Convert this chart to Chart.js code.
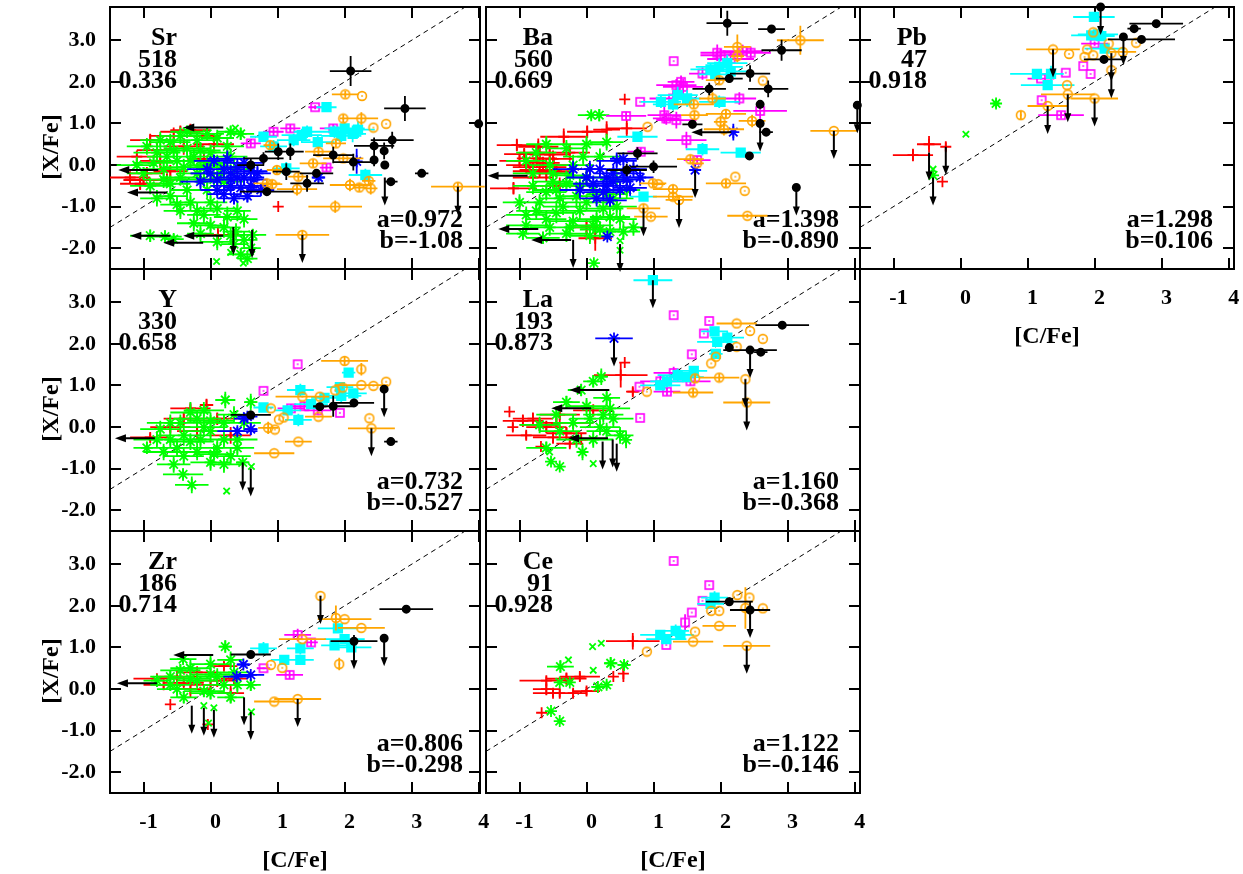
<!DOCTYPE html>
<html>
<head>
<meta charset="utf-8">
<script src="https://cdn.jsdelivr.net/npm/chart.js@4.4.1/dist/chart.umd.min.js"></script>
<style>
html, body { margin: 0; padding: 0; background: #fff; }
#wrap { position: relative; width: 1243px; height: 874px; }
#wrap canvas { position: absolute; left: 0; top: 0; }
</style>
</head>
<body>
<div id="wrap"></div>
<script>
// ---- axis ticks and ranges ----
const xTickValues = [-1, 0, 1, 2, 3, 4];
const yTickValues = [-2, -1, 0, 1, 2, 3];
const yRange = [-2.5, 3.8];
const oneToOne = [-1.5, 3.8];

// ---- Sr : [C/Fe], [X/Fe], err C, err X ----
const srRed = [[-0.95,-0.2,0.25,0.15],[-1.05,-0.45,0.3,0.15],[-0.8,0.36,0.3,0.2],[-0.55,0.7,0.35,0.2],[-0.3,0.84,0.3,0.15],[-0.75,0.1,0.3,0.2],[-0.6,-0.15,0.25,0.15],[-0.4,0.45,0.3,0.2],[-0.1,0.15,0.25,0.2],[0.05,0.5,0.3,0.2],[-1.0,-0.36,0.3,0.1],[-0.2,0.7,0.35,0.15],[0.11,-1.68,0.3,0.2],[1.01,-1.0,0,0],[-0.65,-0.35,0.3,0.15],[-1.2,-0.3,0.3,0.15],[-0.9,0.6,0.3,0.15],[-0.45,0.8,0.3,0.15],[-1.1,0.2,0.3,0.15]];
const srGreen = [[-0.9,-1.7,0.3,0.15],[-0.68,-1.72,0.25,0.15],[-0.55,-1.78,0.15,0.12],[-0.8,0.3,0.35,0.2],[-0.6,0.55,0.3,0.2],[-0.5,0.1,0.3,0.25],[-0.35,0.4,0.35,0.2],[-0.2,0.6,0.3,0.2],[-0.7,-0.1,0.3,0.2],[-0.45,-0.3,0.3,0.2],[-0.2,-0.2,0.3,0.25],[0.0,0.3,0.3,0.2],[0.1,0.65,0.25,0.2],[0.3,0.8,0.2,0.15],[0.45,0.75,0.2,0.15],[-0.9,-0.5,0.3,0.2],[-0.6,-0.75,0.25,0.2],[-0.3,-0.9,0.3,0.2],[-0.05,-0.6,0.3,0.2],[0.2,-0.4,0.3,0.2],[-0.1,-1.2,0.25,0.2],[0.1,-1.05,0.3,0.2],[-0.25,-1.4,0.25,0.2],[0.2,-1.5,0.25,0.25],[0.35,-1.9,0.2,0.2],[0.5,-1.8,0.2,0.2],[0.6,-2.0,0.15,0.2],[0.45,-2.15,0.2,0.15],[0.63,-1.68,0.2,0.15],[-0.45,0.7,0.3,0.2],[-0.05,0.0,0.3,0.2],[0.3,0.2,0.25,0.2],[-0.85,0.05,0.3,0.2],[-0.35,-0.6,0.25,0.25],[0.0,-0.9,0.25,0.2],[-0.15,0.35,0.3,0.2],[0.15,-0.2,0.3,0.25],[0.25,-1.25,0.2,0.25],[-0.45,-1.1,0.25,0.2],[0.38,-1.6,0.2,0.2],[0.1,-1.85,0.25,0.2],[-0.75,0.6,0.3,0.2],[-0.3,0.1,0.35,0.2],[0.05,-0.35,0.3,0.2],[-0.6,-0.45,0.3,0.2],[0.25,0.45,0.25,0.2],[-1.0,-0.2,0.25,0.15],[0.4,-1.1,0.2,0.25],[-0.15,-1.65,0.2,0.2],[-1.1,0.0,0.3,0.2],[-0.95,0.45,0.3,0.2],[-0.65,0.2,0.3,0.2],[-0.4,-0.05,0.3,0.2],[-0.1,-0.35,0.3,0.2],[0.1,0.05,0.3,0.2],[-0.55,0.35,0.3,0.2],[-0.25,0.2,0.3,0.2],[-0.7,-0.35,0.3,0.2],[-0.15,-0.05,0.3,0.2],[0.35,-0.1,0.25,0.2],[-0.5,-0.95,0.25,0.2],[-0.2,-1.1,0.25,0.2],[0.0,-1.45,0.2,0.2],[-0.35,0.8,0.25,0.15],[-0.05,0.75,0.25,0.15],[0.5,-1.3,0.2,0.2],[0.3,-1.7,0.2,0.2],[0.55,-2.25,0.15,0.15],[-0.8,-0.8,0.25,0.2]];
const srGreenX = [[0.09,-2.32],[0.49,-2.36],[0.37,0.89],[0.3,-2.1]];
const srBlue = [[0.0,-0.2,0.3,0.2],[0.2,-0.1,0.3,0.2],[0.4,-0.05,0.25,0.2],[0.5,-0.3,0.3,0.2],[0.3,-0.5,0.3,0.2],[0.1,-0.6,0.25,0.2],[0.6,-0.5,0.25,0.2],[0.5,0.05,0.3,0.15],[0.7,-0.2,0.2,0.2],[-0.15,-0.4,0.3,0.2],[0.35,-0.8,0.25,0.15],[0.55,-0.75,0.2,0.15],[0.25,0.15,0.3,0.2],[0.75,-0.6,0.2,0.15],[-0.05,-0.1,0.3,0.15],[0.4,-0.3,0.3,0.2],[2.18,0.09,0.05,0.3],[1.61,-0.3,0.1,0.1],[0.1,-0.35,0.3,0.2],[0.3,-0.2,0.3,0.2],[0.6,-0.15,0.25,0.2],[0.2,-0.7,0.25,0.2],[0.45,-0.55,0.25,0.2],[0.65,-0.35,0.2,0.2],[0.05,0.1,0.3,0.15],[0.3,-0.35,0.3,0.2]];
const srMagenta = [[1.56,1.39,0.1,0.05],[1.19,0.88,0.15,0.1],[1.83,0.88,0.2,0.1],[1.73,-0.06,0.1,0.1],[0.6,0.52,0.15,0.1],[0.94,0.8,0.15,0.1]];
const srCyan = [[1.73,1.39,0.15,0.08],[2.0,0.88,0.3,0.15],[1.85,0.8,0.3,0.15],[2.2,0.85,0.25,0.2],[1.95,0.7,0.3,0.15],[2.12,0.75,0.2,0.2],[1.36,0.72,0.3,0.15],[1.24,0.6,0.25,0.15],[1.44,0.8,0.2,0.15],[0.79,0.68,0.2,0.1],[0.94,0.45,0.2,0.15],[2.31,-0.24,0.25,0.15],[1.13,-0.08,0.2,0.15],[1.6,0.55,0.25,0.15]];
const srOrange = [[2.01,1.7,0.2,0.08],[2.26,1.66,0,0],[1.98,1.12,0.05,0.1],[2.25,1.12,0.25,0.15],[2.43,0.9,0,0],[2.62,0.99,0,0],[1.87,0.52,0.15,0.1],[1.61,0.32,0.2,0.1],[1.98,0.16,0.3,0.1],[1.53,0.04,0.2,0.1],[2.08,-0.48,0.3,0.15],[2.22,-0.54,0.1,0.1],[2.39,-0.56,0.1,0.15],[2.36,-0.38,0.1,0.1],[1.29,-0.58,0.3,0.15],[1.31,-0.28,0.15,0.1],[1.86,-1.0,0.4,0.15],[1.37,-1.68,0.4,0.1],[3.69,-0.52,0.4,0.1],[0.84,-0.44,0.2,0.1],[0.92,-0.46,0.15,0.1],[0.89,0.48,0.1,0.1],[0.99,-0.12,0.15,0.1]];
const srBlack = [[2.09,2.26,0.31,0.36],[2.9,1.36,0.31,0.3],[4.0,0.99,0,0],[2.71,0.6,0.32,0.2],[2.44,0.46,0.3,0.2],[2.59,0.34,0,0.2],[2.44,0.12,0,0.15],[2.6,0.0,0,0],[2.69,-0.4,0.1,0],[3.15,-0.2,0.1,0],[2.13,0.07,0.3,0.2],[1.83,0.24,0.3,0.2],[1.58,-0.2,0.25,0.1],[1.44,-0.44,0.25,0.2],[1.13,-0.16,0.2,0.2],[1.01,0.32,0.2,0.2],[0.79,0.16,0.3,0.15],[0.84,-0.64,0.4,0.1],[1.19,0.32,0.2,0.2],[0.6,0.0,0.2,0.15]];
const srDown = [[0.34,-1.49],[0.62,-1.56],[1.37,-1.68],[3.69,-0.52],[2.6,-0.3]];
const srLeft = [[-0.78,-0.12],[-0.65,-0.66],[-0.6,-1.7],[-0.11,-1.87],[0.19,0.9],[0.19,-1.7]];

// ---- Ba ----
const baRed = [[-1.04,0.48,0.3,0.15],[-0.72,0.44,0.3,0.2],[-0.34,0.68,0.35,0.2],[0.01,0.8,0.3,0.15],[0.6,0.88,0.3,0.2],[-0.74,0.16,0.3,0.2],[-0.49,0.0,0.3,0.2],[-0.7,-0.12,0.3,0.2],[-0.93,0.26,0.3,0.15],[-1.09,-0.56,0.35,0.15],[-0.6,-0.2,0.3,0.2],[0.13,-1.76,0.25,0.3],[0.57,1.58,0,0],[-0.85,-0.05,0.25,0.15],[-0.55,0.25,0.3,0.2],[-0.25,0.3,0.3,0.2],[-0.8,-0.3,0.3,0.2],[-0.4,-0.5,0.3,0.2],[0.3,0.85,0.2,0.2],[0.0,-1.5,0.25,0.2],[-0.65,0.05,0.25,0.15],[-0.45,-0.15,0.25,0.15],[-0.9,0.0,0.3,0.2],[-0.7,0.3,0.3,0.2],[-0.5,0.15,0.3,0.2],[-0.8,-0.15,0.3,0.2],[-1.0,0.1,0.3,0.15],[-0.6,-0.05,0.3,0.2]];
const baGreen = [[0.07,1.2,0.2,0.1],[0.19,1.2,0.15,0.15],[-0.6,0.5,0.3,0.2],[-0.3,0.4,0.3,0.2],[0.0,0.5,0.3,0.2],[0.3,0.55,0.25,0.2],[-0.9,0.1,0.3,0.2],[-0.5,-0.2,0.3,0.2],[-0.2,0.0,0.3,0.25],[0.2,0.2,0.3,0.2],[-0.8,-0.5,0.3,0.2],[-0.45,-0.6,0.35,0.2],[-0.1,-0.5,0.3,0.2],[0.3,-0.7,0.3,0.2],[-0.7,-0.9,0.3,0.2],[-0.35,-1.0,0.3,0.2],[0.0,-0.9,0.35,0.2],[0.45,-1.0,0.3,0.2],[-0.6,-1.3,0.3,0.2],[-0.2,-1.35,0.35,0.2],[0.15,-1.3,0.3,0.2],[0.5,-1.3,0.25,0.25],[-0.95,-1.65,0.25,0.15],[-0.65,-1.75,0.25,0.15],[-0.3,-1.65,0.3,0.2],[0.05,-1.7,0.3,0.2],[0.35,-1.6,0.25,0.2],[-0.9,-1.2,0.3,0.2],[-0.5,-0.4,0.3,0.2],[0.6,-0.6,0.2,0.2],[0.7,-1.5,0.15,0.2],[-0.15,-0.75,0.3,0.25],[0.25,-1.05,0.3,0.2],[-0.55,-1.5,0.3,0.2],[0.11,-2.36,0,0],[-0.75,0.3,0.3,0.2],[-0.25,-0.25,0.3,0.2],[0.45,-0.35,0.25,0.2],[-1.0,-0.9,0.25,0.2],[0.2,-1.55,0.3,0.2],[-0.45,-1.15,0.3,0.25],[-0.8,-0.2,0.3,0.2],[-0.6,-0.65,0.3,0.2],[-0.3,-0.45,0.3,0.2],[0.1,-0.6,0.3,0.2],[0.4,-0.8,0.3,0.2],[-0.4,-0.8,0.3,0.2],[-0.1,-1.1,0.3,0.2],[0.35,-1.25,0.3,0.2],[-0.75,-1.1,0.3,0.2],[-0.25,-1.5,0.3,0.2],[0.55,-1.6,0.25,0.2],[-0.9,-1.45,0.3,0.2],[0.0,-0.3,0.3,0.2],[-0.55,0.0,0.3,0.2],[0.1,-1.45,0.3,0.2],[-0.05,0.2,0.3,0.2]];
const baGreenX = [[0.5,-1.82],[0.5,-2.05]];
const baBlue = [[0.0,-0.3,0.3,0.2],[0.2,-0.1,0.3,0.2],[0.4,-0.2,0.3,0.2],[0.6,-0.35,0.25,0.2],[0.3,-0.5,0.3,0.2],[0.5,-0.6,0.25,0.2],[-0.1,-0.6,0.3,0.2],[0.15,-0.8,0.25,0.2],[0.45,0.1,0.3,0.2],[0.7,-0.1,0.2,0.2],[-0.2,-0.1,0.3,0.2],[0.35,-0.85,0.25,0.15],[2.19,0.79,0.05,0.2],[1.62,-0.12,0.05,0.1],[0.31,-1.72,0.05,0.05],[0.55,0.15,0.2,0.15],[0.1,-0.45,0.3,0.2],[0.3,-0.3,0.3,0.2],[0.55,-0.2,0.3,0.2],[0.25,-0.65,0.3,0.2],[0.65,-0.55,0.25,0.2],[0.4,-0.4,0.3,0.2],[0.8,-0.3,0.2,0.2],[0.05,-0.1,0.3,0.2]];
const baMagenta = [[1.3,2.5,0,0],[2.33,2.74,0.3,0.15],[2.45,2.7,0.3,0.15],[2.15,2.55,0.35,0.2],[1.95,2.7,0.25,0.2],[1.73,2.2,0.2,0.15],[1.34,1.92,0.3,0.15],[1.44,1.88,0.3,0.2],[1.29,1.6,0.35,0.2],[1.16,1.2,0.25,0.2],[1.34,1.08,0.3,0.2],[2.28,1.6,0.25,0.15],[2.59,1.3,0.4,0.2],[1.49,0.6,0.3,0.2],[0.8,1.52,0,0],[0.59,1.18,0.3,0.1],[1.65,0.12,0.2,0.1],[0.81,0.32,0.2,0.1],[1.19,1.12,0.2,0.15],[1.41,2.0,0.2,0.15],[2.0,2.64,0.3,0.15]];
const baCyan = [[1.98,2.36,0.35,0.2],[1.85,2.3,0.3,0.15],[2.1,2.45,0.3,0.2],[1.92,2.18,0.25,0.15],[2.15,2.25,0.3,0.15],[1.36,1.68,0.3,0.2],[1.11,1.52,0.3,0.15],[1.29,1.46,0.3,0.15],[1.98,1.52,0.3,0.15],[1.73,0.38,0.25,0.15],[2.3,0.3,0.3,0.1],[0.76,0.68,0.3,0.1],[0.85,-0.76,0.2,0.1],[2.0,1.52,0.2,0.1],[1.5,1.6,0.2,0.2]];
const baOrange = [[3.19,3.0,0.35,0.35],[2.25,2.84,0.2,0.3],[2.25,2.62,0.1,0.15],[2.63,2.03,0,0],[1.98,2.04,0.2,0.1],[1.88,1.6,0.2,0.15],[1.6,1.46,0.3,0.1],[1.61,1.2,0.2,0.1],[2.08,1.23,0.3,0.1],[2.0,1.04,0.1,0.15],[2.05,0.86,0.3,0.15],[2.47,1.06,0.2,0.15],[0.91,0.92,0,0],[1.55,0.14,0.2,0.1],[1.65,0.04,0.1,0],[3.69,0.82,0.35,0],[0.99,-0.44,0.2,0.1],[1.07,-0.46,0.1,0],[1.29,-0.58,0.3,0.1],[1.29,-0.76,0.3,0.1],[1.38,-0.84,0.2,0.1],[0.85,-1.04,0.25,0.1],[0.96,-1.24,0.25,0.05],[2.08,-0.44,0.3,0.1],[2.22,-0.28,0,0],[2.36,-0.62,0,0],[2.4,-1.22,0.3,0.05]];
const baBlack = [[2.1,3.41,0.31,0.3],[2.76,3.27,0.2,0.1],[2.91,2.76,0.3,0.25],[2.44,2.2,0.3,0.2],[2.13,2.08,0.2,0.1],[1.83,1.83,0.25,0.15],[2.71,1.83,0.3,0.2],[2.59,1.46,0,0.1],[2.59,1.0,0,0.1],[2.68,0.79,0.1,0],[1.58,0.98,0.15,0.1],[2.43,0.22,0,0],[4.04,1.44,0,0],[0.76,0.28,0.3,0.15],[1.0,-0.04,0.35,0.15],[0.6,-0.12,0.3,0.15],[3.13,-0.54,0,0]];
const baDown = [[2.59,1.0],[1.62,-0.12],[0.85,-1.04],[1.38,-0.84],[0.5,-1.9],[-0.2,-1.8],[3.69,0.82],[3.13,-0.54],[4.04,1.44]];
const baLeft = [[2.16,0.79],[-0.88,-0.26],[-0.72,-1.54],[-0.23,-1.8]];

// ---- Pb ----
const pbRed = [[-0.71,0.24,0.3,0.15],[-0.47,0.5,0.18,0.2],[-0.22,0.44,0,0.1],[-0.27,-0.4,0,0]];
const pbGreen = [[0.53,1.48,0.05,0.1],[-0.41,-0.25,0,0]];
const pbGreenX = [[0.08,0.74],[-0.41,-0.1]];
const pbMagenta = [[1.21,1.56,0,0],[1.5,1.2,0.34,0.08],[1.57,2.22,0,0],[1.2,2.08,0.2,0],[1.83,2.38,0,0],[1.94,2.19,0,0],[2.0,2.92,0.2,0.05]];
const pbCyan = [[1.99,3.56,0.31,0.1],[1.14,2.19,0.4,0.1],[1.35,2.19,0.1,0.2],[1.3,1.92,0.4,0.1],[1.95,3.12,0.3,0.1],[2.05,3.14,0.3,0.1],[2.1,3.1,0.2,0.1],[2.15,2.8,0.3,0.05]];
const pbOrange = [[0.9,1.2,0,0.1],[1.98,3.19,0,0],[1.38,2.78,0.4,0],[1.62,2.67,0,0],[2.21,2.92,0,0],[1.89,2.78,0,0],[1.85,2.6,0,0],[1.98,2.64,0,0],[2.25,2.69,0,0],[2.42,2.72,0.2,0],[2.62,2.94,0,0],[2.25,2.28,0,0],[1.59,1.92,0,0],[1.6,1.7,0.4,0],[1.3,1.42,0.3,0],[2.0,1.6,0.35,0]];
const pbBlack = [[2.09,3.8,0.31,0],[2.92,3.4,0.4,0],[2.59,3.28,0.1,0],[2.43,3.08,0,0],[2.7,3.02,0.5,0],[2.14,2.54,0.3,0]];
const pbDown = [[-0.47,0.3],[-0.22,0.44],[-0.41,-0.3],[2.09,3.8],[1.38,2.78],[2.25,2.69],[2.25,2.28],[1.6,1.7],[1.3,1.42],[2.0,1.6],[2.43,3.08]];
const pbLeft = [];

// ---- Y ----
const yRed = [[-0.06,0.53,0.1,0.15],[-0.9,-0.25,0.3,0.1],[-0.4,0.2,0.3,0.15],[-0.2,-0.1,0.3,0.2],[0.1,0.2,0.3,0.15],[-0.6,0.0,0.3,0.15],[0.3,-0.2,0.3,0.2],[-0.3,0.45,0.3,0.1]];
const yGreen = [[-0.41,-1.14,0.3,0.15],[-0.28,-1.39,0.25,0.2],[0.22,0.65,0.15,0.2],[0.6,0.6,0.1,0.2],[-0.8,-0.3,0.35,0.2],[-0.6,0.1,0.35,0.2],[-0.4,-0.2,0.4,0.25],[-0.2,0.2,0.35,0.2],[0.0,-0.1,0.4,0.25],[0.2,0.1,0.3,0.2],[0.4,-0.3,0.3,0.2],[-0.5,-0.5,0.3,0.2],[-0.2,-0.6,0.35,0.2],[0.1,-0.5,0.3,0.2],[0.3,-0.7,0.3,0.2],[-0.3,0.35,0.3,0.25],[-0.7,-0.6,0.3,0.2],[0.0,-0.85,0.3,0.2],[0.2,-0.9,0.25,0.2],[-0.1,0.4,0.3,0.2],[0.48,-0.85,0.1,0.1],[-0.95,-0.5,0.2,0.15],[0.5,0.1,0.25,0.2],[-0.55,-0.9,0.25,0.2],[-0.6,-0.3,0.35,0.2],[-0.3,-0.35,0.35,0.2],[0.0,0.15,0.35,0.2],[-0.45,0.1,0.35,0.2],[0.2,-0.3,0.3,0.2],[-0.15,-0.3,0.35,0.2],[-0.75,-0.05,0.3,0.2],[0.35,0.3,0.25,0.2],[-0.4,-0.7,0.3,0.2],[0.05,-0.65,0.3,0.2],[-0.1,0.0,0.35,0.2],[0.4,-0.5,0.25,0.2]];
const yGreenX = [[0.24,-1.54],[0.61,-0.95]];
const yBlue = [[0.5,0.2,0.15,0.1],[0.4,-0.1,0.3,0.1],[0.6,-0.05,0.1,0.15],[0.55,0.25,0.15,0.1]];
const yMagenta = [[1.3,1.51,0,0],[0.79,0.87,0,0],[1.2,0.45,0.2,0.1],[1.4,0.5,0.2,0.1],[1.6,0.4,0.2,0.1],[1.93,0.34,0,0]];
const yCyan = [[2.06,1.31,0.1,0.1],[1.34,0.89,0.2,0.15],[1.93,0.96,0.2,0.1],[2.13,0.81,0.2,0.1],[1.95,0.75,0.3,0.15],[1.31,0.17,0.2,0.15],[0.79,0.47,0.15,0.1],[1.5,0.55,0.25,0.1],[1.15,0.4,0.2,0.1],[1.7,0.7,0.2,0.1]];
const yOrange = [[2.0,1.59,0.35,0.1],[2.25,1.39,0,0.15],[2.25,1.01,0.4,0],[2.43,0.99,0,0],[2.62,1.09,0,0],[1.97,0.95,0,0],[1.86,0.88,0,0],[1.37,0.73,0.4,0],[1.63,0.73,0,0],[0.9,0.45,0,0],[1.61,0.25,0.2,0],[1.09,0.23,0,0],[1.02,0.18,0,0],[0.86,-0.02,0.15,0.15],[0.96,-0.06,0,0],[1.31,-0.35,0.2,0],[0.95,-0.63,0.3,0],[2.37,0.21,0,0],[2.4,-0.03,0.35,0]];
const yBlack = [[2.59,0.91,0.05,0],[2.14,0.58,0.3,0.1],[1.83,0.5,0.3,0.25],[0.6,0.29,0.3,0.1],[2.69,-0.35,0.1,0],[1.63,0.49,0.1,0]];
const yDown = [[2.59,0.91],[2.4,-0.03],[0.48,-0.85],[0.6,-1.0]];
const yLeft = [[-0.83,-0.27]];

// ---- La ----
const laRed = [[0.57,1.55,0,0],[0.51,1.25,0.4,0.3],[0.69,0.85,0.1,0.1],[-1.15,0.37,0,0],[-1.1,0.0,0,0.1],[-0.68,-0.47,0,0],[-0.08,-0.3,0.1,0.1],[-0.8,0.2,0.3,0.15],[-0.6,0.0,0.3,0.15],[-0.4,0.3,0.3,0.2],[-0.9,-0.2,0.3,0.1],[-0.5,-0.25,0.3,0.15],[-0.2,0.1,0.3,0.15],[-0.3,-0.15,0.3,0.15],[0.1,0.4,0.3,0.15],[-0.7,0.05,0.3,0.15],[-0.45,0.1,0.3,0.15],[-0.95,0.15,0.3,0.15],[-0.25,-0.4,0.2,0.1]];
const laGreen = [[0.22,1.21,0.1,0.2],[0.1,1.1,0.15,0.15],[-0.08,0.89,0.2,0.15],[-0.6,-0.5,0.3,0.15],[-0.53,-0.83,0,0],[-0.4,-0.95,0,0],[0.59,-0.31,0,0.2],[-0.06,-0.6,0,0.2],[-0.3,0.6,0.2,0.15],[0.0,0.5,0.3,0.2],[0.35,0.45,0.3,0.25],[-0.2,0.1,0.3,0.2],[0.2,0.0,0.3,0.2],[0.4,0.2,0.3,0.2],[-0.45,0.3,0.3,0.2],[0.5,-0.2,0.2,0.2],[-0.7,0.05,0.3,0.2],[0.1,-0.3,0.3,0.2],[0.3,0.7,0.2,0.2],[-0.4,-0.1,0.3,0.2],[0.05,0.2,0.3,0.2],[0.3,-0.1,0.3,0.2],[-0.15,-0.3,0.3,0.2],[0.25,0.3,0.3,0.2]];
const laGreenX = [[0.1,-0.88],[-0.55,-0.6]];
const laBlue = [[0.41,2.13,0.28,0]];
const laMagenta = [[1.3,2.69,0,0],[1.57,1.75,0,0],[1.83,2.55,0,0],[1.75,2.25,0,0],[0.8,0.22,0,0],[0.79,0.97,0,0],[1.1,1.1,0.3,0.15],[1.3,1.3,0.3,0.15],[1.55,1.1,0.3,0.1],[1.2,0.85,0.2,0.1]];
const laCyan = [[0.99,3.53,0.29,0],[1.91,2.3,0.2,0.1],[1.95,2.05,0.3,0.1],[2.1,2.15,0.25,0.15],[1.93,1.76,0.1,0.1],[1.36,1.25,0.3,0.15],[1.2,1.1,0.25,0.15],[1.5,1.2,0.25,0.1],[1.1,1.0,0.3,0.1],[1.6,1.35,0.2,0.1]];
const laOrange = [[2.24,2.49,0.3,0],[2.44,2.31,0,0],[2.63,2.12,0,0],[2.24,1.93,0,0],[1.93,1.69,0,0],[1.86,1.53,0,0],[1.98,1.19,0.3,0.1],[1.62,1.17,0,0.1],[1.59,0.83,0.3,0.1],[2.37,1.15,0,0],[2.39,0.59,0.35,0],[0.9,0.85,0,0]];
const laBlack = [[2.92,2.45,0.4,0],[2.13,1.91,0,0],[2.44,1.85,0.4,0],[2.6,1.8,0.1,0]];
const laDown = [[0.99,3.53],[0.41,2.13],[2.44,1.85],[2.37,1.15],[2.39,0.59],[0.24,-0.35],[0.39,-0.3],[0.45,-0.4]];
const laLeft = [[0.32,-0.27],[0.34,0.89],[0.07,0.45]];

// ---- Zr ----
const zrRed = [[-0.6,-0.37,0,0],[-0.04,-0.85,0,0],[-0.5,0.3,0.3,0.1],[-0.2,0.4,0.3,0.15],[0.1,0.2,0.3,0.15],[-0.7,0.1,0.3,0.1],[0.3,-0.1,0.2,0.2],[-0.3,0.0,0.3,0.2],[0.2,0.55,0.2,0.1],[-0.8,0.25,0.35,0.1],[-0.4,0.15,0.3,0.1],[0.0,0.1,0.3,0.1],[0.35,0.25,0.2,0.1]];
const zrGreen = [[0.22,1.02,0.1,0.15],[-0.41,0.72,0.2,0.1],[-0.6,0.3,0.3,0.15],[-0.3,0.5,0.3,0.2],[0.0,0.6,0.3,0.2],[0.3,0.7,0.2,0.2],[-0.5,0.0,0.3,0.2],[-0.2,0.2,0.3,0.2],[0.1,0.3,0.3,0.2],[0.4,0.1,0.2,0.2],[-0.4,-0.2,0.2,0.15],[0.0,-0.1,0.3,0.15],[-0.8,0.2,0.2,0.15],[0.6,0.1,0.15,0.15],[0.3,-0.2,0.2,0.15],[-0.6,0.1,0.3,0.15],[-0.3,0.25,0.3,0.15],[0.0,0.35,0.3,0.2],[0.2,0.1,0.3,0.2],[-0.45,0.45,0.3,0.15],[-0.1,-0.05,0.3,0.15],[0.35,0.4,0.25,0.2]];
const zrGreenX = [[-0.03,-0.82],[-0.1,-0.4],[0.05,-0.45],[0.61,-0.55]];
const zrBlue = [[0.49,0.59,0.1,0.05],[0.39,0.3,0.2,0.05],[0.6,0.34,0.2,0.05]];
const zrMagenta = [[1.3,1.3,0.2,0.15],[1.5,1.12,0.1,0.1],[0.79,0.5,0.1,0],[1.18,0.34,0.2,0.1]];
const zrCyan = [[1.9,1.46,0.3,0.1],[2.0,1.2,0.3,0.1],[2.1,1.0,0.3,0.1],[1.85,1.05,0.2,0.1],[1.34,0.98,0.2,0.15],[1.34,0.7,0.2,0.1],[1.1,0.7,0.2,0.1],[0.79,0.98,0.2,0.15]];
const zrOrange = [[1.64,2.24,0,0],[1.87,1.71,0,0.3],[2.0,1.68,0.4,0],[2.25,1.47,0.35,0],[1.37,1.2,0.35,0],[1.92,0.6,0,0.15],[0.9,0.58,0,0],[1.07,0.51,0,0],[0.95,-0.3,0.3,0],[1.3,-0.24,0.35,0]];
const zrBlack = [[2.92,1.92,0.4,0],[2.14,1.15,0.35,0.15],[2.59,1.22,0,0],[0.6,0.83,0.3,0]];
const zrDown = [[1.64,2.24],[2.14,1.15],[2.59,1.22],[1.3,-0.24],[-0.28,-0.4],[-0.1,-0.45],[0.05,-0.5],[0.5,-0.2],[0.6,-0.55]];
const zrLeft = [[-0.8,0.14],[0.04,0.82]];

// ---- Ce ----
const ceRed = [[0.69,1.15,0.4,0.2],[-0.67,-0.57,0,0],[0.55,0.37,0,0.2],[0.4,0.3,0,0],[-0.6,0.2,0.4,0.1],[-0.3,0.25,0.3,0.15],[-0.1,0.3,0.3,0.1],[-0.5,-0.1,0.3,0.1],[-0.2,-0.1,0.2,0.1],[0.0,-0.05,0.2,0.1],[-0.6,0.0,0.2,0.15],[-0.4,-0.1,0.15,0.1]];
const ceGreen = [[-0.39,0.54,0.2,0.15],[0.36,0.62,0.1,0.15],[0.56,0.58,0.1,0.1],[-0.4,0.16,0,0],[-0.25,0.16,0,0],[0.3,0.1,0,0.1],[0.17,0.05,0.1,0],[-0.53,-0.53,0,0],[-0.4,-0.77,0,0]];
const ceGreenX = [[0.09,1.02],[0.22,1.1],[-0.27,0.7],[0.1,0.45]];
const ceBlue = [];
const ceMagenta = [[1.3,3.08,0,0],[1.83,2.5,0,0],[1.73,2.12,0,0],[1.57,1.84,0,0],[1.47,1.6,0,0.2],[1.19,1.06,0,0]];
const ceCyan = [[1.91,2.2,0.2,0.15],[1.85,2.05,0.2,0.1],[1.33,1.4,0.2,0.15],[1.19,1.2,0.3,0.1],[1.1,1.3,0.3,0.1],[1.4,1.3,0.2,0.1]];
const ceOrange = [[2.25,2.26,0,0],[2.43,2.2,0,0],[2.63,1.94,0,0],[1.86,1.88,0,0],[1.98,1.88,0,0],[2.37,1.95,0,0.5],[1.98,1.52,0.25,0],[1.62,1.38,0,0],[1.59,1.14,0.3,0],[2.39,1.04,0.35,0],[0.9,0.9,0,0]];
const ceBlack = [[2.13,2.1,0.35,0.1],[2.44,1.9,0.3,0.2]];
const ceDown = [[2.39,1.04],[2.44,1.9]];
const ceLeft = [];

// ---- panel definitions ----
const panels = [
  {name:'Sr', count:'518', corr:'0.336', fitA:'a=0.972', fitB:'b=-1.08', col:0, row:0, xAxis:false,
   red:srRed, green:srGreen, greenX:srGreenX, blue:srBlue, magenta:srMagenta, cyan:srCyan, orange:srOrange, black:srBlack, down:srDown, left:srLeft},
  {name:'Ba', count:'560', corr:'0.669', fitA:'a=1.398', fitB:'b=-0.890', col:1, row:0, xAxis:false,
   red:baRed, green:baGreen, greenX:baGreenX, blue:baBlue, magenta:baMagenta, cyan:baCyan, orange:baOrange, black:baBlack, down:baDown, left:baLeft},
  {name:'Pb', count:'47', corr:'0.918', fitA:'a=1.298', fitB:'b=0.106', col:2, row:0, xAxis:true,
   red:pbRed, green:pbGreen, greenX:pbGreenX, blue:[], magenta:pbMagenta, cyan:pbCyan, orange:pbOrange, black:pbBlack, down:pbDown, left:pbLeft},
  {name:'Y', count:'330', corr:'0.658', fitA:'a=0.732', fitB:'b=-0.527', col:0, row:1, xAxis:false,
   red:yRed, green:yGreen, greenX:yGreenX, blue:yBlue, magenta:yMagenta, cyan:yCyan, orange:yOrange, black:yBlack, down:yDown, left:yLeft},
  {name:'La', count:'193', corr:'0.873', fitA:'a=1.160', fitB:'b=-0.368', col:1, row:1, xAxis:false,
   red:laRed, green:laGreen, greenX:laGreenX, blue:laBlue, magenta:laMagenta, cyan:laCyan, orange:laOrange, black:laBlack, down:laDown, left:laLeft},
  {name:'Zr', count:'186', corr:'0.714', fitA:'a=0.806', fitB:'b=-0.298', col:0, row:2, xAxis:true,
   red:zrRed, green:zrGreen, greenX:zrGreenX, blue:zrBlue, magenta:zrMagenta, cyan:zrCyan, orange:zrOrange, black:zrBlack, down:zrDown, left:zrLeft},
  {name:'Ce', count:'91', corr:'0.928', fitA:'a=1.122', fitB:'b=-0.146', col:1, row:2, xAxis:true,
   red:ceRed, green:ceGreen, greenX:ceGreenX, blue:ceBlue, magenta:ceMagenta, cyan:ceCyan, orange:ceOrange, black:ceBlack, down:ceDown, left:ceLeft}
];

// ---- page geometry ----
const PAGE_W = 1243, PAGE_H = 874;
const COL_LEFT = [110, 486, 860];
const COL_W = [370, 374, 374];
const COL_XMAX = [4.02, 4.08, 4.08];
const ROW_TOP = [7, 269, 531];
const ROW_H = 262;
const Y_AXIS_W = 80, X_AXIS_H = 80;
const TICK_LEN = 11;
const SERIF = '"Liberation Serif", "Times New Roman", serif';

// marker images: open square / open circle with a centre dot
function markerCanvas(kind, color) {
  const c = document.createElement('canvas');
  c.width = 12; c.height = 12;
  const g = c.getContext('2d');
  g.strokeStyle = color; g.fillStyle = color; g.lineWidth = 1.6;
  if (kind === 'square') {
    g.strokeRect(2, 2, 8, 8);
  } else {
    g.beginPath(); g.arc(6, 6, 4.4, 0, Math.PI * 2); g.stroke();
  }
  g.fillRect(5.2, 5.2, 1.6, 1.6);
  return c;
}
const squareDot = markerCanvas('square', '#ff00ff');
const circleDot = markerCanvas('circle', '#ffa500');

const seriesStyles = [
  {key:'red',     color:'#ff0000', pointStyle:'cross',    radius:5.5, fill:false},
  {key:'green',   color:'#00ff00', pointStyle:'star',     radius:6,   fill:false},
  {key:'greenX',  color:'#00ff00', pointStyle:'crossRot', radius:4.5, fill:false},
  {key:'blue',    color:'#0000ff', pointStyle:'star',     radius:6,   fill:false},
  {key:'magenta', color:'#ff00ff', pointStyle:squareDot,  radius:5,   fill:false},
  {key:'cyan',    color:'#00ffff', pointStyle:'rect',     radius:6,   fill:true},
  {key:'orange',  color:'#ffa500', pointStyle:circleDot,  radius:5,   fill:false},
  {key:'black',   color:'#000000', pointStyle:'circle',   radius:3.6, fill:true}
];

function buildDatasets(p) {
  const ds = [];
  ds.push({
    data: oneToOne.map(v => [v, v]), showLine: true, borderColor: '#000', borderWidth: 1,
    borderDash: [5, 4], pointRadius: 0, clip: false
  });
  seriesStyles.forEach(s => {
    const pts = p[s.key];
    if (!pts || !pts.length) return;
    ds.push({
      data: pts, errorBars: true, borderColor: s.color,
      pointStyle: s.pointStyle, pointRadius: s.radius,
      pointBorderColor: s.color, pointBorderWidth: 1.8,
      pointBackgroundColor: s.fill ? s.color : 'rgba(0,0,0,0)',
      clip: false
    });
  });
  if (p.down.length) ds.push({data: p.down, arrow: 'down', pointRadius: 0, borderColor: '#000', clip: false});
  if (p.left.length) ds.push({data: p.left, arrow: 'left', pointRadius: 0, borderColor: '#000', clip: false});
  // later entries are painted on top
  ds.forEach((d, i) => { d.order = ds.length - i; });
  return ds;
}

// frame, inside tick marks, panel annotations and the [X/Fe] label
const framePlugin = {
  id: 'frame',
  beforeDatasetsDraw(chart, args, opts) {
    const {ctx, chartArea: a, scales: {x, y}} = chart;
    ctx.save();
    ctx.strokeStyle = '#000';
    ctx.lineWidth = 2;
    ctx.beginPath();
    xTickValues.forEach(v => {
      const px = Math.round(x.getPixelForValue(v));
      ctx.moveTo(px, a.bottom); ctx.lineTo(px, a.bottom - TICK_LEN);
      ctx.moveTo(px, a.top); ctx.lineTo(px, a.top + TICK_LEN);
    });
    yTickValues.forEach(v => {
      const py = Math.round(y.getPixelForValue(v));
      ctx.moveTo(a.left, py); ctx.lineTo(a.left + TICK_LEN, py);
      ctx.moveTo(a.right, py); ctx.lineTo(a.right - TICK_LEN, py);
    });
    ctx.stroke();
    ctx.strokeRect(a.left, a.top, a.right - a.left, a.bottom - a.top);

    ctx.fillStyle = '#000';
    ctx.font = 'bold 26px ' + SERIF;
    ctx.textAlign = 'right';
    ctx.textBaseline = 'middle';
    ctx.fillText(opts.name, a.left + 67, a.top + 31);
    ctx.fillText(opts.count, a.left + 67, a.top + 53);
    ctx.fillText(opts.corr, a.left + 67, a.top + 74);
    ctx.fillText(opts.fitA, a.left + 353, a.top + 213);
    ctx.fillText(opts.fitB, a.left + 353, a.top + 234);

    if (opts.yTitle) {
      ctx.font = 'bold 24px ' + SERIF;
      ctx.textAlign = 'center';
      ctx.translate(52, (a.top + a.bottom) / 2 + 9);
      ctx.rotate(-Math.PI / 2);
      ctx.fillText(opts.yTitle, 0, 0);
    }
    ctx.restore();
  }
};

// error bars under each series, limit arrows on top
const errorPlugin = {
  id: 'errorBars',
  beforeDatasetDraw(chart, args) {
    const ds = chart.data.datasets[args.index];
    if (!ds.errorBars) return;
    const {ctx, scales: {x, y}} = chart;
    ctx.save();
    ctx.strokeStyle = ds.borderColor;
    ctx.lineWidth = 1.8;
    ctx.beginPath();
    ds.data.forEach(d => {
      const [vx, vy, ex = 0, ey = 0] = d;
      const px = x.getPixelForValue(vx), py = y.getPixelForValue(vy);
      if (ex) { ctx.moveTo(x.getPixelForValue(vx - ex), py); ctx.lineTo(x.getPixelForValue(vx + ex), py); }
      if (ey) { ctx.moveTo(px, y.getPixelForValue(vy - ey)); ctx.lineTo(px, y.getPixelForValue(vy + ey)); }
    });
    ctx.stroke();
    ctx.restore();
  },
  afterDatasetDraw(chart, args) {
    const ds = chart.data.datasets[args.index];
    if (!ds.arrow) return;
    const {ctx, scales: {x, y}} = chart;
    ctx.save();
    ctx.strokeStyle = '#000';
    ctx.fillStyle = '#000';
    ctx.lineWidth = 2;
    ds.data.forEach(d => {
      const px = x.getPixelForValue(d[0]), py = y.getPixelForValue(d[1]);
      ctx.beginPath();
      if (ds.arrow === 'down') {
        const L = 28;
        ctx.moveTo(px, py); ctx.lineTo(px, py + L - 6); ctx.stroke();
        ctx.beginPath();
        ctx.moveTo(px, py + L); ctx.lineTo(px - 3.5, py + L - 9); ctx.lineTo(px + 3.5, py + L - 9);
        ctx.closePath(); ctx.fill();
      } else {
        const L = 40;
        ctx.moveTo(px, py); ctx.lineTo(px - L + 6, py); ctx.stroke();
        ctx.beginPath();
        ctx.moveTo(px - L, py); ctx.lineTo(px - L + 11, py - 4); ctx.lineTo(px - L + 11, py + 4);
        ctx.closePath(); ctx.fill();
      }
    });
    ctx.restore();
  }
};

// keep every axis box at a fixed size and stop label overflow from moving the plot area
function pinAxis(scale, size, horizontal) {
  if (horizontal) scale.height = size; else scale.width = size;
  scale.paddingTop = 0; scale.paddingBottom = 0;
  scale.paddingLeft = 0; scale.paddingRight = 0;
}

const tickFont = {family: SERIF, size: 22, weight: 'bold'};
const titleFont = {family: SERIF, size: 24, weight: 'bold', lineHeight: 1};

const wrap = document.getElementById('wrap');
panels.forEach(p => {
  const cv = document.createElement('canvas');
  cv.width = PAGE_W; cv.height = PAGE_H;
  cv.style.width = PAGE_W + 'px'; cv.style.height = PAGE_H + 'px';
  wrap.appendChild(cv);
  const left = COL_LEFT[p.col], top = ROW_TOP[p.row], w = COL_W[p.col];
  const showY = p.col === 0, showX = p.xAxis;
  new Chart(cv, {
    type: 'scatter',
    data: {datasets: buildDatasets(p)},
    options: {
      responsive: false, animation: false, devicePixelRatio: 1, events: [],
      layout: {
        autoPadding: false,
        padding: {
          left: showY ? left - Y_AXIS_W : left,
          top: top,
          right: PAGE_W - left - w,
          bottom: PAGE_H - top - ROW_H - (showX ? X_AXIS_H : 0)
        }
      },
      plugins: {
        legend: {display: false}, tooltip: {enabled: false},
        frame: {name: p.name, count: p.count, corr: p.corr, fitA: p.fitA, fitB: p.fitB,
                yTitle: showY ? '[X/Fe]' : ''}
      },
      scales: {
        x: {
          type: 'linear', min: -1.5, max: COL_XMAX[p.col], display: showX,
          afterBuildTicks: s => { s.ticks = xTickValues.map(v => ({value: v})); },
          afterFit: s => pinAxis(s, showX ? X_AXIS_H : 0, true),
          grid: {display: false, drawTicks: false}, border: {display: false},
          ticks: {font: tickFont, color: '#000', padding: 16, labelOffset: 5, autoSkip: false, maxRotation: 0,
                  callback: v => String(v)},
          title: {display: true, text: '[C/Fe]', font: titleFont, color: '#000', padding: {top: 0, bottom: 0}}
        },
        y: {
          type: 'linear', min: yRange[0], max: yRange[1], display: showY,
          afterBuildTicks: s => { s.ticks = yTickValues.map(v => ({value: v})); },
          afterFit: s => pinAxis(s, showY ? Y_AXIS_W : 0, false),
          grid: {display: false, drawTicks: false}, border: {display: false},
          ticks: {font: tickFont, color: '#000', padding: 14, autoSkip: false,
                  callback: v => Number(v).toFixed(1)},
          title: {display: false}
        }
      }
    },
    plugins: [framePlugin, errorPlugin]
  });
});
</script>
</body>
</html>
